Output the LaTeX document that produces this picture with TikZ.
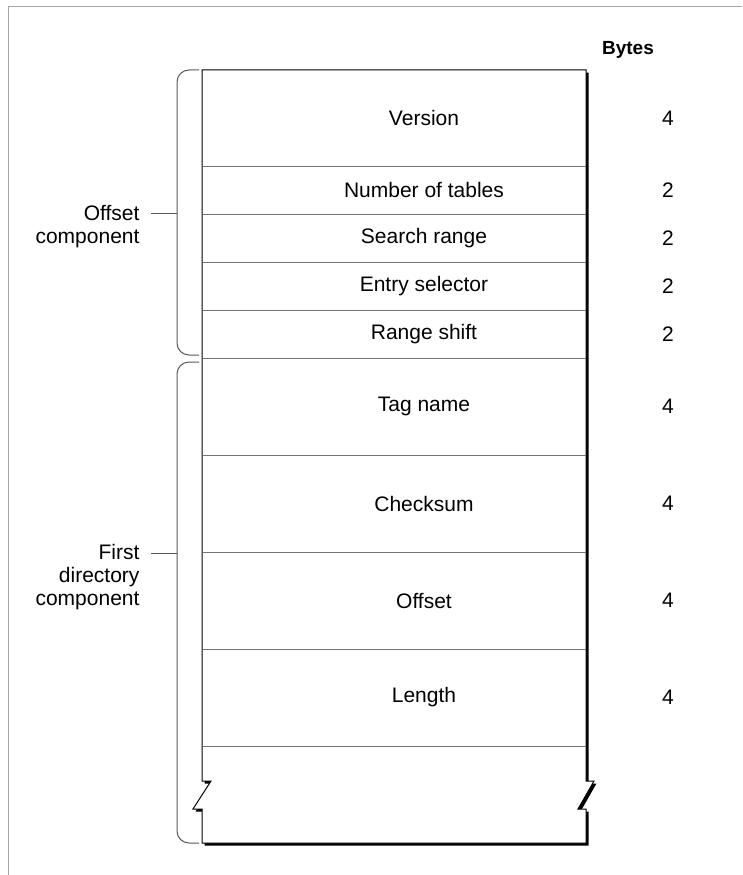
\documentclass[tikz,border=0pt]{standalone}
\usepackage{fontspec}
\setmainfont{Liberation Sans}

\begin{document}
\begin{tikzpicture}[x=1pt, y=-1pt,
  every node/.style={font=\fontsize{21}{23}\selectfont},
  rowline/.style={draw=black!55, line width=1pt},
  outline/.style={draw=black, line width=1pt, line join=miter},
  brace/.style={draw=black!65, line width=1pt, rounded corners=12pt},
  frameline/.style={draw=black!35, line width=1pt}]
  \useasboundingbox (0,0) rectangle (742,875);

  % Rahmen
  \draw[frameline] (742,7) -- (8,7) -- (8,875);

  % Schatten
  \fill[black, shift={(2.5,2.5)}] (202,70) -- (586,70) -- (586,781) -- (594,781)
    -- (578,809) -- (586,809) -- (586,843) -- (202,843) -- (202,809)
    -- (193,809) -- (211,781) -- (202,781) -- cycle;

  % Tabelle
  \filldraw[outline, fill=white] (202,70) -- (586,70) -- (586,781) -- (594,781)
    -- (578,809) -- (586,809) -- (586,843) -- (202,843) -- (202,809)
    -- (193,809) -- (211,781) -- (202,781) -- cycle;

  % Trennlinien
  \foreach \y in {166,214,262,310,358,455,552,649,746}
    \draw[rowline] (202.5,\y) -- (585.5,\y);

  % Felder
  \node (version)  at (424,118)   {Version};
  \node (numtab)   at (424,190)   {Number of tables};
  \node (srange)   at (424,238)   {Search range};
  \node (esel)     at (424,286)   {Entry selector};
  \node (rshift)   at (424,334)   {Range shift};
  \node (tagname)  at (424,406.5) {Tag name};
  \node (checksum) at (424,503.5) {Checksum};
  \node (offset)   at (424,600.5) {Offset};
  \node (length)   at (424,697.5) {Length};

  % Bytes
  \node[font=\fontsize{19}{23}\selectfont\bfseries] (bytes) at (628,50) {Bytes};
  \node (bversion)  at (668,118)   {4};
  \node (bnumtab)   at (668,190)   {2};
  \node (bsrange)   at (668,238)   {2};
  \node (besel)     at (668,286)   {2};
  \node (brshift)   at (668,334)   {2};
  \node (btagname)  at (668,406.5) {4};
  \node (bchecksum) at (668,503.5) {4};
  \node (boffset)   at (668,600.5) {4};
  \node (blength)   at (668,697.5) {4};

  % Klammern
  \draw[brace] (199,70) -- (177,70) -- (177,355) -- (199,355);
  \draw[brace] (199,362) -- (177,362) -- (177,843) -- (199,843);

  % Beschriftung links (base = letzte Zeile)
  \node[anchor=base east, align=right] (offlab) at (143,243) {Offset\\component};
  \node[anchor=base east, align=right] (dirlab) at (143,605) {First\\directory\\component};
  \path (177,213) coordinate (offbrace);
  \path (151,213) coordinate (offend);
  \path (177,553) coordinate (dirbrace);
  \path (151,553) coordinate (dirend);
  \draw[black!65, line width=1pt] (offend) -- (offbrace);
  \draw[black!65, line width=1pt] (dirend) -- (dirbrace);
\end{tikzpicture}
\end{document}
